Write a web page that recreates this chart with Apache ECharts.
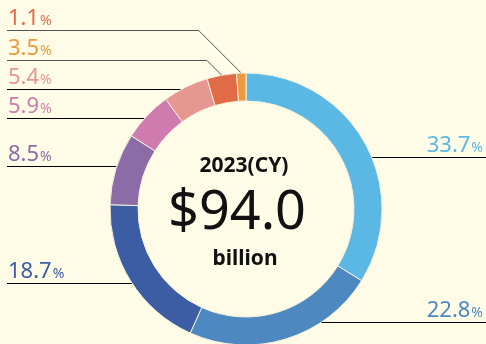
<!DOCTYPE html>
<html>
<head>
<meta charset="utf-8">
<script src="https://cdn.jsdelivr.net/npm/echarts@6/dist/echarts.min.js"></script>
<style>
  html, body { margin: 0; padding: 0; background: #FEFCE6; }
  #chart { width: 486px; height: 344px; }
</style>
</head>
<body>
<div id="chart"></div>
<script>
// Share of the 2023 (CY) total, clockwise from 12 o'clock
const shares = [33.7, 22.8, 18.7, 8.5, 5.9, 5.4, 3.5, 1.1];
const sliceColors = ['#5BB7E3', '#4D88C1', '#3C5CA4', '#8B6CA7', '#D07BB0', '#E69792', '#E26B47', '#EC993F'];
const labelColors = ['#5BB7E3', '#4D88C1', '#3C5CA4', '#8B6CA7', '#D07BB0', '#E69792', '#EC993F', '#E26B47'];
const centerTitle = '2023(CY)';
const centerValue = '$94.0';
const centerUnit = 'billion';

// Layout
const W = 486, CX = 246, CY = 209, R_IN = 108, R_OUT = 136;
const leaderY = [157, 322, 283, 166, 118, 89, 60, 30];
const leaderColor = ['#000', '#000', '#000', '#000', '#000', '#000', '#555', '#555'];
const FONT = '"Noto Sans", sans-serif';

const total = shares.reduce((a, b) => a + b, 0);
// point on the outer edge at the middle of each slice
const midPoints = [];
let acc = 0;
shares.forEach(v => {
  const a = (acc + v / 2) / total * Math.PI * 2;
  midPoints.push([CX + R_OUT * Math.sin(a), CY - R_OUT * Math.cos(a)]);
  acc += v;
});

const chart = echarts.init(document.getElementById('chart'), null, { renderer: 'canvas' });

chart.setOption({
  backgroundColor: '#FEFCE6',
  animation: false,
  series: [{
    type: 'pie',
    center: [CX, CY],
    radius: [R_IN, R_OUT],
    startAngle: 90,
    clockwise: true,
    silent: true,
    itemStyle: { borderColor: '#F4F1DC', borderWidth: 1 },
    data: shares.map((v, i) => ({
      value: v,
      itemStyle: { color: sliceColors[i] },
      label: {
        rich: {
          n: { fontFamily: FONT, fontSize: 22, color: labelColors[i], lineHeight: 24 },
          p: { fontFamily: FONT, fontSize: 14, color: labelColors[i], lineHeight: 24, padding: [4, 0, 0, 1] }
        }
      },
      labelLine: { lineStyle: { color: leaderColor[i], width: 1 } }
    })),
    label: {
      show: true,
      position: 'outside',
      formatter: p => '{n|' + p.value.toFixed(1) + '}{p|%}'
    },
    labelLine: { show: true, length: 10, length2: 10, smooth: false },
    labelLayout: function (p) {
      const i = p.dataIndex;
      const y = leaderY[i] + 0.5;
      const start = midPoints[i];
      const right = start[0] > CX;
      const edge = right ? W : 7;
      const dy = y - CY;
      let pts;
      if (Math.abs(dy) < R_OUT) {
        const dx = Math.sqrt(R_OUT * R_OUT - dy * dy);
        const x0 = right ? CX + dx : CX - dx;
        pts = [[x0, y], [x0, y], [edge, y]];
      } else {
        const ex = start[0] - (start[1] - y);
        pts = [start, [ex, y], [edge, y]];
      }
      return {
        x: right ? W - 3 : 8,
        y: leaderY[i] + 1,
        align: right ? 'right' : 'left',
        verticalAlign: 'bottom',
        labelLinePoints: pts
      };
    }
  }],
  graphic: [
    { type: 'text', x: 244, y: 166, style: { text: centerTitle, font: 'bold 21px ' + FONT, fill: '#111', align: 'center', verticalAlign: 'middle' } },
    { type: 'text', x: 237, y: 214, style: { text: centerValue, font: '54px ' + FONT, fill: '#111', align: 'center', verticalAlign: 'middle' } },
    { type: 'text', x: 245, y: 259, style: { text: centerUnit, font: 'bold 21px ' + FONT, fill: '#111', align: 'center', verticalAlign: 'middle' } }
  ]
});
</script>
</body>
</html>
